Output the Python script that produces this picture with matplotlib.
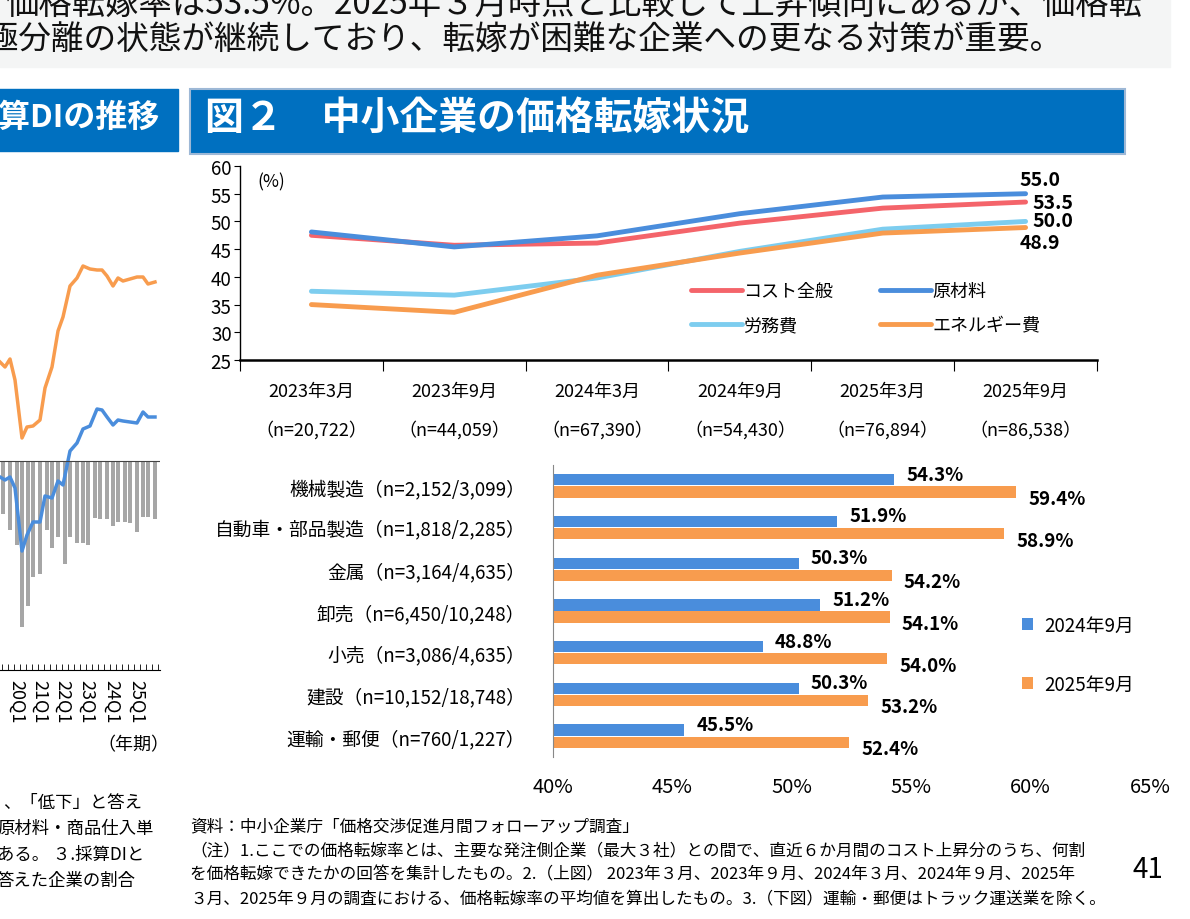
import matplotlib
matplotlib.use("Agg")
import matplotlib.pyplot as plt
from matplotlib.patches import Rectangle
import numpy as np

plt.rcParams['font.family'] = ['Noto Sans CJK JP', 'DejaVu Sans']

# ---- data: line chart ----
periods = ["2023年3月", "2023年9月", "2024年3月", "2024年9月", "2025年3月", "2025年9月"]
samples = ["（n=20,722）", "（n=44,059）", "（n=67,390）", "（n=54,430）", "（n=76,894）", "（n=86,538）"]
cost_all = [47.5, 45.7, 46.1, 49.7, 52.4, 53.5]
materials = [48.1, 45.4, 47.4, 51.4, 54.4, 55.0]
labor = [37.4, 36.7, 39.8, 44.6, 48.6, 50.0]
energy = [35.0, 33.6, 40.3, 44.3, 47.9, 48.9]

# ---- data: bar chart ----
industries = ["機械製造（n=2,152/3,099）", "自動車・部品製造（n=1,818/2,285）", "金属（n=3,164/4,635）",
              "卸売（n=6,450/10,248）", "小売（n=3,086/4,635）", "建設（n=10,152/18,748）", "運輸・郵便（n=760/1,227）"]
rate_2024 = [54.3, 51.9, 50.3, 51.2, 48.8, 50.3, 45.5]
rate_2025 = [59.4, 58.9, 54.2, 54.1, 54.0, 53.2, 52.4]

# ---- data: partial left chart (cropped) ----
left_x = [0, 5, 10, 15, 22, 27, 33, 40, 45, 52, 58, 63, 70, 77, 83, 90, 97, 102, 107, 113, 118, 123, 130, 137, 143, 148, 155]
orange_di = [-363, -368, -360, -381, -439, -428, -427, -421, -389, -368, -332, -318, -287, -279, -267, -270, -271, -271, -277, -287, -279, -282, -280, -278, -278, -285, -283]
blue_di = [-478, -481, -478, -489, -552, -536, -523, -523, -497, -499, -482, -486, -452, -444, -430, -427, -410, -411, -418, -426, -421, -422, -423, -424, -413, -418, -418]
bar_x = [3, 10, 17, 22, 28, 33, 40, 47, 52, 58, 65, 70, 77, 83, 88, 95, 100, 107, 113, 118, 125, 130, 137, 143, 148, 155]
bar_val = [-53, -69, -84, -166, -145, -116, -113, -69, -87, -76, -103, -76, -82, -82, -84, -57, -58, -58, -65, -61, -61, -62, -71, -56, -56, -58]
quarter_labels = ["20Q1", "21Q1", "22Q1", "23Q1", "24Q1", "25Q1"]
quarter_pos = [17, 40, 63, 87, 112, 137]

W, H = 1190, 920
fig = plt.figure(figsize=(11.9, 9.2), dpi=100)

def fr(x0, y0, x1, y1):
    return [x0 / W, 1 - y1 / H, (x1 - x0) / W, (y1 - y0) / H]

def ft(x, y, s, **kw):
    fig.text(x / W, 1 - y / H, s, **kw)

# background blocks
fig.patches.append(Rectangle((0, 1 - 68 / H), 1170 / W, 68 / H, transform=fig.transFigure, color="#F4F5F5", zorder=0))
fig.patches.append(Rectangle((-0.01, 1 - 152 / H), 178 / W + 0.01, 62 / H, transform=fig.transFigure, color="#0070C0", zorder=0))
fig.patches.append(Rectangle((190 / W, 1 - 155 / H), 935 / W, 65 / H, transform=fig.transFigure, color="#0070C0", ec="#9DB8D6", lw=1.5, zorder=0))

ft(1142, 4, "価格転嫁率は53.5%。2025年３月時点と比較して上昇傾向にあるが、価格転", fontsize=24, va="center", ha="right", color="#111111")
ft(1062, 40, "二極分離の状態が継続しており、転嫁が困難な企業への更なる対策が重要。", fontsize=23.5, va="center", ha="right", color="#111111")
ft(160, 118, "採算DIの推移", fontsize=23, fontweight="bold", color="white", va="center", ha="right")
ft(205, 118, "図２　中小企業の価格転嫁状況", fontsize=28, fontweight="bold", color="white", va="center")

# ---- left cropped chart ----
axl = fig.add_axes(fr(-2, 170, 160, 671))
axl.bar(bar_x, bar_val, width=3.5, bottom=-462, color="#A6A6A6")
axl.plot(left_x, orange_di, color="#F89C4E", lw=2.5)
axl.plot(left_x, blue_di, color="#4A8DDC", lw=2.5)
axl.axhline(-462, color="#444444", lw=0.8)
axl.set_xlim(-2, 160)
axl.set_ylim(-671, -170)
for s in ["top", "right", "left"]:
    axl.spines[s].set_visible(False)
axl.set_yticks([])
axl.set_xticks(np.arange(2, 160, 6), minor=True)
axl.set_xticks([])
axl.tick_params(axis="x", which="minor", direction="in", length=4)
for lab, p in zip(quarter_labels, quarter_pos):
    axl.text(p, -680, lab, rotation=270, ha="center", va="top", fontsize=13)
ft(97, 745, "（年期）", fontsize=13, va="center")
for i, s in enumerate(["、「低下」と答え", "原材料・商品仕入単", "ある。 ３.採算DIと", "答えた企業の割合"]):
    ft(-3 if i else 3, 803 + i * 26, s, fontsize=12.5, va="center")

# ---- line chart ----
ax1 = fig.add_axes(fr(240, 167, 1097, 361))
x = np.arange(len(periods))
series = [(cost_all, "コスト全般", "#F4646A"), (materials, "原材料", "#4A8DDC"),
          (labor, "労務費", "#7DCDEF"), (energy, "エネルギー費", "#F89C4E")]
handles = []
for vals, name, col in series:
    h, = ax1.plot(x, vals, color=col, lw=3.5, solid_capstyle="round", label=name)
    handles.append(h)
ax1.set_xlim(-0.5, 5.5)
ax1.set_ylim(25, 60)
ax1.set_yticks(range(25, 61, 5))
ax1.tick_params(axis="y", labelsize=13.5, length=4, pad=2)
ax1.set_xticks(np.arange(-0.5, 6, 1))
ax1.set_xticklabels([])
ax1.tick_params(axis="x", length=8, direction="out")
for s in ["top", "right"]:
    ax1.spines[s].set_visible(False)
ax1.spines["bottom"].set_linewidth(1.8)
ax1.spines["left"].set_linewidth(1.0)
for i, (p, n) in enumerate(zip(periods, samples)):
    ax1.text(i, -0.16, p, transform=ax1.get_xaxis_transform(), ha="center", va="center", fontsize=13)
    ax1.text(i, -0.355, n, transform=ax1.get_xaxis_transform(), ha="center", va="center", fontsize=13)
ax1.text(0.02, 0.97, "(%)", transform=ax1.transAxes, fontsize=12.5, va="top")
ax1.text(5.1, 57.5, f"{materials[-1]:.1f}", fontsize=14, fontweight="bold", ha="center", va="center")
ax1.text(5.05, cost_all[-1], f"{cost_all[-1]:.1f}", fontsize=14, fontweight="bold", ha="left", va="center")
ax1.text(5.05, 50.2, f"{labor[-1]:.1f}", fontsize=14, fontweight="bold", ha="left", va="center")
ax1.text(5.1, 46.2, f"{energy[-1]:.1f}", fontsize=14, fontweight="bold", ha="center", va="center")
order = [0, 2, 1, 3]
fig.legend(handles=[handles[k] for k in order], labels=[series[k][1] for k in order],
           loc="center", bbox_to_anchor=(866 / W, 1 - 309 / H), ncol=2, frameon=False, fontsize=13,
           handlelength=2.8, columnspacing=2.6, labelspacing=0.9, handletextpad=0.1)

# ---- bar chart ----
ax2 = fig.add_axes(fr(553, 466, 1150, 758))
y = np.arange(len(industries))
bh = 0.27
ax2.barh(y - bh / 2 - 0.01, rate_2024, height=bh, left=0, color="#4A8DDC", label="2024年9月")
ax2.barh(y + bh / 2 + 0.01, rate_2025, height=bh, left=0, color="#F89C4E", label="2025年9月")
for yi, a, b in zip(y, rate_2024, rate_2025):
    ax2.text(a + 0.5, yi - 0.28, f"{a:.1f}%", fontsize=13.5, fontweight="bold", va="center")
    ax2.text(b + 0.5, yi + 0.3, f"{b:.1f}%", fontsize=13.5, fontweight="bold", va="center")
ax2.set_xlim(40, 65)
ax2.set_ylim(6.5, -0.5)
ax2.set_yticks(y)
ax2.set_yticklabels(industries, fontsize=13.5)
ax2.tick_params(axis="y", length=0, pad=20)
ax2.set_xticks(range(40, 66, 5))
ax2.set_xticklabels([f"{v}%" for v in range(40, 66, 5)], fontsize=14.5)
ax2.tick_params(axis="x", length=0, pad=14)
for s in ["top", "right", "bottom"]:
    ax2.spines[s].set_visible(False)
ax2.spines["left"].set_color("#888888")
ax2.legend(loc="center left", bbox_to_anchor=(0.757, 0.35), frameon=False, fontsize=13.5,
           handlelength=0.6, handleheight=0.6, labelspacing=2.0, handletextpad=0.6)

# ---- notes ----
notes = ["資料：中小企業庁「価格交渉促進月間フォローアップ調査」",
         "（注）1.ここでの価格転嫁率とは、主要な発注側企業（最大３社）との間で、直近６か月間のコスト上昇分のうち、何割",
         "を価格転嫁できたかの回答を集計したもの。2.（上図） 2023年３月、2023年９月、2024年３月、2024年９月、2025年",
         "３月、2025年９月の調査における、価格転嫁率の平均値を算出したもの。3.（下図）運輸・郵便はトラック運送業を除く。"]
for i, s in enumerate(notes):
    ft(190, 827 + i * 24, s, fontsize=12, va="center")
ft(1148, 870, "41", fontsize=20, va="center", ha="center")

fig.savefig("out.png", dpi=100)
